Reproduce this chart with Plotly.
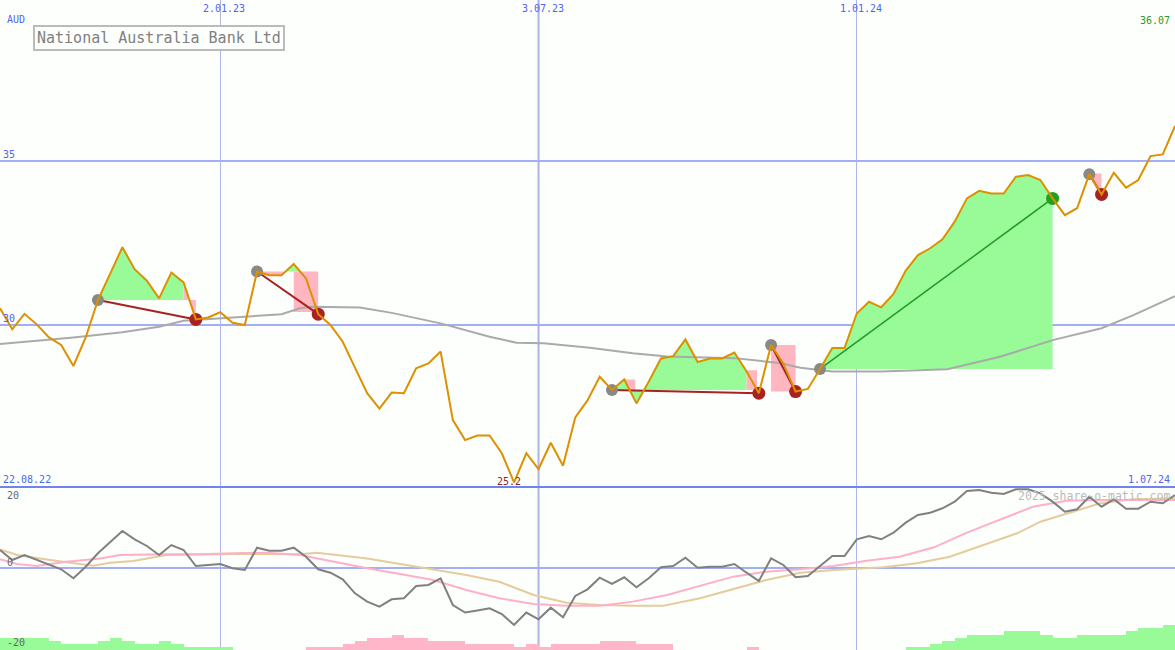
import plotly.graph_objects as go

W, H = 1175, 650
SPLIT = 1 - 487 / 650          # boundary between price panel and indicator panel
P_RANGE = [25.061, 39.909]
I_RANGE = [-20.37, 19.97]

# ---------------- data (weekly, index = week number) ----------------
price = [30.51, 29.87, 30.34, 30.02, 29.62, 29.39, 28.75, 29.62, 30.76, 31.56,
         32.37, 31.70, 31.35, 30.81, 31.60, 31.30, 30.17, 30.23, 30.39, 30.07,
         30.00, 31.63, 31.52, 31.52, 31.86, 31.42, 30.33, 30.00, 29.49, 28.70,
         27.92, 27.45, 27.94, 27.92, 28.68, 28.83, 29.19, 27.10, 26.49, 26.63,
         26.63, 26.09, 25.20, 26.09, 25.61, 26.41, 25.71, 27.18, 27.70, 28.42,
         28.02, 28.34, 27.61, 28.27, 28.98, 29.05, 29.56, 28.87, 28.98, 28.98,
         29.16, 28.58, 27.92, 29.39, 28.83, 27.97, 28.05, 28.66, 29.30, 29.30,
         30.35, 30.71, 30.54, 30.95, 31.66, 32.13, 32.34, 32.61, 33.15, 33.86,
         34.09, 34.01, 34.01, 34.52, 34.57, 34.42, 33.86, 33.35, 33.56, 34.60,
         33.98, 34.64, 34.19, 34.42, 35.15, 35.20, 36.07]
weeks = list(range(len(price)))

ma_weeks = [0, 6, 10, 13, 15, 18, 20.5, 23, 24.5, 25.5, 29.4, 32, 36, 40, 42.2,
            44.4, 48.2, 51.7, 54.5, 60, 63.7, 65.4, 68, 72, 77.4, 81.7, 86, 90,
            92.6, 96]
ma_vals = [29.42, 29.62, 29.78, 29.95, 30.13, 30.20, 30.25, 30.33, 30.51, 30.56,
           30.53, 30.37, 30.05, 29.64, 29.46, 29.44, 29.31, 29.14, 29.04, 28.99,
           28.84, 28.70, 28.58, 28.58, 28.65, 29.03, 29.54, 29.90, 30.30, 30.88]

momentum = [4.38, 1.9, 3.14, 1.9, 0.67, -0.4, -2.6, 0.25, 3.56, 6.44,
            9.08, 7.0, 5.37, 3.14, 5.6, 4.38, 0.42, 0.67, 0.92, -0.15,
            -0.57, 4.95, 4.2, 4.2, 4.95, 2.72, -0.4, -1.24, -2.87, -6.34,
            -8.4, -9.65, -7.82, -7.57, -4.53, -4.28, -2.63, -9.23, -11.1, -10.6,
            -10.05, -11.46, -14.18, -11.1, -12.78, -9.9, -12.28, -7.0, -5.35, -2.47,
            -4.03, -2.38, -4.86, -2.63, 0.1, 0.42, 2.48, 0.0, 0.25, 0.25,
            0.92, -1.24, -3.3, 2.3, 0.67, -2.38, -2.05, 0.42, 2.9, 2.9,
            7.03, 7.85, 7.03, 8.67, 11.14, 13.04, 13.62, 14.7, 16.34, 18.98,
            19.23, 18.56, 18.24, 19.4, 19.4, 18.4, 16.34, 13.86, 14.46, 17.57,
            15.1, 16.93, 14.6, 14.6, 16.34, 15.94, 18.0]

pink_weeks = [0, 1.4, 3, 5.4, 8.2, 9.8, 13.6, 16.3, 19.1, 21.8, 24.5, 27.2, 30,
              32.7, 35.4, 38.1, 40.8, 43.6, 46.3, 49, 51.7, 54.5, 57.2, 59.9,
              62.6, 65.4, 68.1, 70.8, 73.5, 76.3, 79, 81.7, 84.4, 87.1, 89.9, 96]
pink_vals = [2.08, 0.92, 0.42, 1.49, 2.3, 3.14, 3.3, 3.3, 3.56, 3.72, 3.14, 1.49,
             -0.15, -1.56, -3.04, -5.52, -7.57, -8.99, -9.4, -9.4, -8.4, -6.76,
             -4.53, -2.22, -0.98, -0.4, 0.42, 1.73, 2.72, 5.04, 8.67, 11.97,
             15.1, 16.58, 16.76, 16.76]

tan_weeks = [0, 1.4, 4.1, 7.6, 9, 10.9, 13.6, 19.1, 24.5, 25.9, 30, 32.7, 35.4,
             38.1, 40.8, 43.6, 46.3, 49, 51.7, 54.2, 57.2, 59.9, 62.6, 65.4,
             68.1, 72.2, 74.9, 77.6, 80.3, 83.1, 85, 87.1, 89.9, 92.6, 96]
tan_vals = [4.54, 3.14, 1.9, 0.5, 1.24, 1.66, 3.14, 3.39, 3.3, 3.72, 2.3, 0.92,
            -0.4, -1.81, -3.47, -6.76, -8.66, -9.23, -9.4, -9.4, -7.57, -5.35,
            -3.04, -1.24, -0.57, 0.1, 1.08, 2.72, 5.62, 8.51, 11.39, 13.29,
            15.94, 16.93, 17.18]

hist = [2.9, 2.9, 2.9, 2.9, 2.2, 1.5, 1.5, 1.5, 2.2, 2.9,
        2.2, 1.5, 1.5, 2.2, 1.5, 0.7, 0.7, 0.7, 0.7, 0,
        0, 0, 0, 0, 0, -0.7, -0.7, -0.7, -1.5, -2.2,
        -2.9, -2.9, -3.7, -2.9, -2.9, -2.2, -2.2, -2.2, -1.5, -1.5,
        -1.5, -1.5, -0.7, -1.5, -0.7, -1.5, -1.5, -1.5, -1.5, -2.2,
        -2.2, -2.2, -1.5, -1.5, -1.5, 0, 0, 0, 0, 0,
        0, -0.7, 0, 0, 0, 0, 0, 0, 0, 0,
        0, 0, 0, 0, 0.7, 0.7, 1.5, 2.2, 2.9, 3.7,
        3.7, 3.7, 4.7, 4.7, 4.7, 3.7, 2.9, 2.9, 3.7, 3.7,
        3.7, 3.7, 4.7, 5.4, 5.4, 6.2]

tick_weeks = [18, 44, 70]
tick_labels = ["2.01.23", "3.07.23", "1.01.24"]

# trade signals: entry week, exit week, exit is a win
entry_idx = [8, 21, 50, 63, 67, 89]
exit_idx = [16, 26, 62, 65, 86, 90]
exit_win = [False, False, False, False, True, False]

# green regions (entry week, last green week)
green_spans = [(8, 15), (50, 61), (67, 86)]
green_small_x = [23.3, 24, 24.5]
green_small_y = [31.63, 31.86, 31.63]

# pink regions (vertices: week, price)
pink_polys = [
    ([15, 15, 16, 16], [30.76, 31.30, 30.17, 30.76]),
    ([21, 22, 23, 23.3], [31.63, 31.52, 31.52, 31.63]),
    ([24, 26, 26, 24], [31.63, 31.63, 30.40, 30.40]),
    ([51, 51.9, 51.9, 51.44], [28.34, 28.34, 28.02, 28.02]),
    ([61, 61, 61.85, 61.85], [28.02, 28.62, 28.62, 28.02]),
    ([63, 65, 65, 63], [29.39, 29.39, 27.97, 27.97]),
    ([89, 90, 90], [34.62, 34.62, 34.0]),
]

# ---------------- colours ----------------
BG = "#fdfffd"
BLUE_TXT = "#5064f0"
GRID = "#a4aef4"
PRICE_C = "#dd9000"
GREEN_FILL = "#98fb98"
PINK_FILL = "#ffb6c1"
DARK_RED = "#a82222"
FONT = "DejaVu Sans Mono"

fig = go.Figure()

# green areas
for a, b in green_spans:
    lvl = price[a]
    fig.add_trace(go.Scatter(
        x=weeks[a:b + 1] + [b, a], y=price[a:b + 1] + [lvl, lvl],
        fill="toself", fillcolor=GREEN_FILL, line=dict(width=0),
        mode="lines", hoverinfo="skip", showlegend=False))
fig.add_trace(go.Scatter(x=green_small_x, y=green_small_y, fill="toself",
                         fillcolor=GREEN_FILL, line=dict(width=0), mode="lines",
                         hoverinfo="skip", showlegend=False))
# pink areas
for px_, py_ in pink_polys:
    fig.add_trace(go.Scatter(x=px_, y=py_, fill="toself", fillcolor=PINK_FILL,
                             line=dict(width=0), mode="lines",
                             hoverinfo="skip", showlegend=False))

# moving average
fig.add_trace(go.Scatter(x=ma_weeks, y=ma_vals, mode="lines",
                         line=dict(color="#aaaaaa", width=2), showlegend=False))

# signal lines
for e, x_, win in zip(entry_idx, exit_idx, exit_win):
    fig.add_trace(go.Scatter(
        x=[e, x_], y=[price[e], price[x_]], mode="lines",
        line=dict(color="#229922" if win else DARK_RED, width=1.5 if win else 2),
        showlegend=False))

# dots
fig.add_trace(go.Scatter(x=entry_idx, y=[price[i] for i in entry_idx],
                         mode="markers", marker=dict(color="#888888", size=12),
                         showlegend=False))
fig.add_trace(go.Scatter(
    x=exit_idx, y=[price[i] for i in exit_idx], mode="markers",
    marker=dict(color=["#22a022" if w else DARK_RED for w in exit_win], size=13),
    showlegend=False))

# price line
fig.add_trace(go.Scatter(x=weeks, y=price, mode="lines",
                         line=dict(color=PRICE_C, width=2), showlegend=False))

# ---------------- indicator panel ----------------
fig.add_trace(go.Bar(
    x=[i + 0.5 for i in range(len(hist))], y=[abs(v) for v in hist],
    base=I_RANGE[0], width=1.0,
    marker=dict(color=["#98fb98" if v > 0 else "#ffb6c8" for v in hist],
                line=dict(width=0)),
    xaxis="x2", yaxis="y2", showlegend=False))
fig.add_trace(go.Scatter(x=tan_weeks, y=tan_vals, mode="lines",
                         line=dict(color="#e4cc9c", width=2),
                         xaxis="x2", yaxis="y2", showlegend=False))
fig.add_trace(go.Scatter(x=pink_weeks, y=pink_vals, mode="lines",
                         line=dict(color="#ffb0c8", width=2),
                         xaxis="x2", yaxis="y2", showlegend=False))
fig.add_trace(go.Scatter(x=weeks, y=momentum, mode="lines",
                         line=dict(color="#808080", width=2),
                         xaxis="x2", yaxis="y2", showlegend=False))

# ---------------- layout ----------------
xcommon = dict(range=[0, 96], tickvals=tick_weeks, showticklabels=False,
               showgrid=True, gridcolor="#b0b6e8", gridwidth=1, zeroline=False,
               showline=False, ticks="", fixedrange=True)

def ann(text, x, y, color, xanchor="left", yanchor="middle", size=10, **kw):
    return dict(text=text, x=x, y=y, xref=kw.pop("xref", "paper"),
                yref=kw.pop("yref", "paper"), showarrow=False,
                xanchor=xanchor, yanchor=yanchor,
                font=dict(family=FONT, size=size, color=color), **kw)

annotations = []
for tw, tl in zip(tick_weeks, tick_labels):
    annotations.append(ann(tl, tw, 1 - 9 / H, BLUE_TXT, xanchor="center",
                           xref="x", xshift=4))
annotations += [
    ann("AUD", 5 / W, 1 - 19 / H, BLUE_TXT),
    ann("%.2f" % price[-1], 1172 / W, 1 - 20 / H, "#2a9a2a", xanchor="right"),
    ann("22.08.22", 1 / W, 1 - 479 / H, BLUE_TXT),
    ann("1.07.24", 1172 / W, 1 - 479 / H, BLUE_TXT, xanchor="right"),
    ann("%.1f" % min(price), price.index(min(price)), min(price), "#a02020",
        xanchor="center", xref="x", yref="y", xshift=-5, yshift=1),
    ann("20", 5 / W, 1 - 495 / H, "#666666"),
    ann("0", 5 / W, 1 - 562 / H, "#666666"),
    ann("-20", 5 / W, 1 - 642 / H, "#666666"),
    ann("2025 share-o-matic.com", 1172 / W, 1 - 496 / H, "#bbbbbb",
        xanchor="right", size=11.5),
    dict(text="National Australia Bank Ltd", x=33 / W, y=1 - 25 / H,
         xref="paper", yref="paper", xanchor="left", yanchor="top",
         showarrow=False, bordercolor="#bbbbbb", borderwidth=2, borderpad=2,
         bgcolor=BG, font=dict(family=FONT, size=15, color="#808080")),
]

fig.update_layout(
    width=W, height=H, autosize=False,
    margin=dict(l=0, r=0, t=0, b=0, pad=0),
    paper_bgcolor=BG, plot_bgcolor=BG,
    showlegend=False, bargap=0,
    xaxis=dict(anchor="y", **xcommon),
    xaxis2=dict(anchor="y2", matches="x", **xcommon),
    yaxis=dict(domain=[SPLIT, 1], range=P_RANGE, tickvals=[30, 35],
               ticktext=["30", "35"], ticklabelposition="inside top",
               tickfont=dict(family=FONT, size=10, color=BLUE_TXT),
               showgrid=True, gridcolor=GRID, gridwidth=2, zeroline=False,
               ticks="", showline=False, fixedrange=True),
    yaxis2=dict(domain=[0, SPLIT], range=I_RANGE, tickvals=[0],
                showticklabels=False, showgrid=True, gridcolor=GRID,
                gridwidth=2, zeroline=False, ticks="", showline=False,
                fixedrange=True),
    shapes=[
        dict(type="line", xref="x", yref="paper", x0=44, x1=44, y0=0, y1=1,
             line=dict(color="#9fabf5", width=2), layer="below"),
        dict(type="line", xref="paper", yref="paper", x0=0, x1=1,
             y0=SPLIT, y1=SPLIT, line=dict(color="#7282ee", width=2)),
    ],
    annotations=annotations,
)

fig.write_html(
    "out.html", config={"displayModeBar": False},
    post_script="document.body.style.margin='0';document.body.style.padding='0';"
                "document.body.style.background='" + BG + "';")
